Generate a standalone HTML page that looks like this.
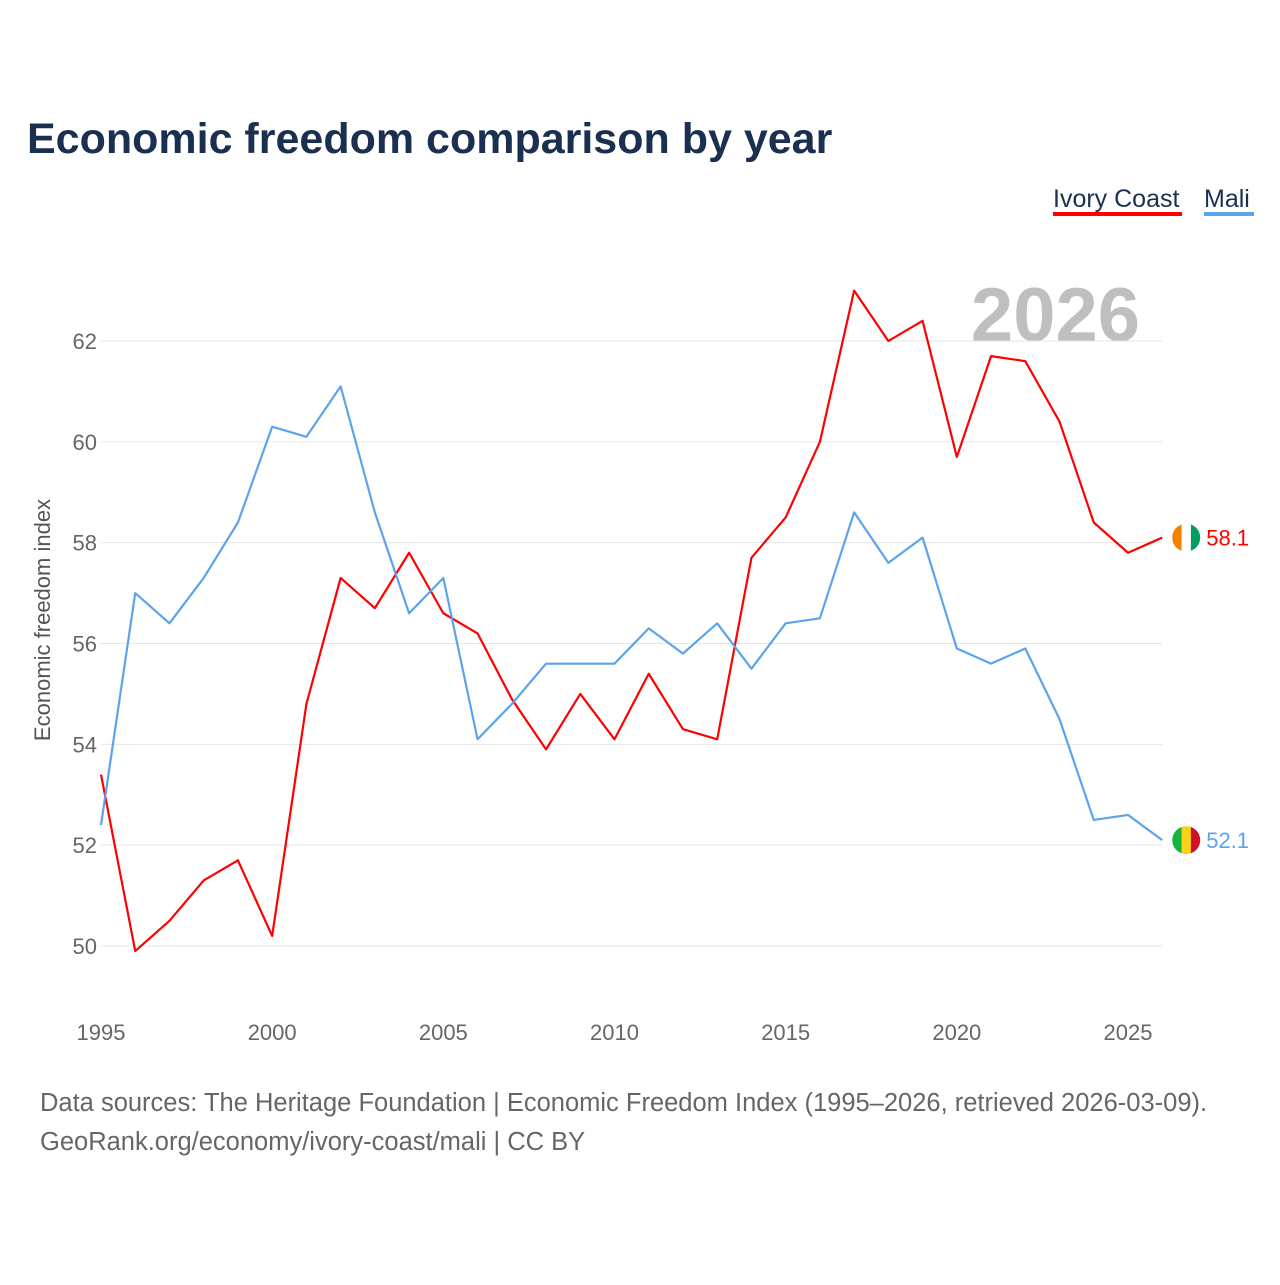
<!DOCTYPE html>
<html><head><meta charset="utf-8">
<style>
html,body{margin:0;padding:0;background:#fff;}
body{width:1280px;height:1280px;overflow:hidden;font-family:"Liberation Sans",sans-serif;}
</style></head>
<body>
<svg id="chart" width="1280" height="1280" xmlns="http://www.w3.org/2000/svg" font-family="Liberation Sans, sans-serif">
<text x="27" y="153" font-size="43" font-weight="bold" fill="#1b3050">Economic freedom comparison by year</text>
<g>
<text x="1053" y="207" font-size="25" fill="#1b3050">Ivory Coast</text>
<rect x="1053" y="212" width="129" height="4" fill="#ff0000"/>
<text x="1204" y="207" font-size="25" fill="#1b3050">Mali</text>
<rect x="1204" y="212" width="50" height="4" fill="#5ba4ec"/>
</g>
<text x="1140" y="341" font-size="76" font-weight="bold" fill="#bfbfbf" text-anchor="end">2026</text>
<text transform="translate(50,620) rotate(-90)" font-size="22" fill="#555" text-anchor="middle">Economic freedom index</text>
<g id="grid"></g><g id="lines"></g><g id="labels"></g>
<text x="40" y="1111" font-size="25.5" fill="#666">Data sources: The Heritage Foundation | Economic Freedom Index (1995–2026, retrieved 2026-03-09).</text>
<text x="40" y="1150" font-size="25.5" fill="#666">GeoRank.org/economy/ivory-coast/mali | CC BY</text>
</svg>
<script>
const years=[1995,1996,1997,1998,1999,2000,2001,2002,2003,2004,2005,2006,2007,2008,2009,2010,2011,2012,2013,2014,2015,2016,2017,2018,2019,2020,2021,2022,2023,2024,2025,2026];
const ivoryCoast=[53.4,49.9,50.5,51.3,51.7,50.2,54.8,57.3,56.7,57.8,56.6,56.2,54.9,53.9,55.0,54.1,55.4,54.3,54.1,57.7,58.5,60.0,63.0,62.0,62.4,59.7,61.7,61.6,60.4,58.4,57.8,58.1];
const mali=[52.4,57.0,56.4,57.3,58.4,60.3,60.1,61.1,58.6,56.6,57.3,54.1,54.8,55.6,55.6,55.6,56.3,55.8,56.4,55.5,56.4,56.5,58.6,57.6,58.1,55.9,55.6,55.9,54.5,52.5,52.6,52.1];
const yTicks=[50,52,54,56,58,60,62];
const xTicks=[1995,2000,2005,2010,2015,2020,2025];
const NS="http://www.w3.org/2000/svg";
const x=y=>101+(y-1995)*(1027/30);
const yS=v=>946-(v-50)*(605/12);
function mk(t,a,p){const e=document.createElementNS(NS,t);for(const k in a)e.setAttribute(k,a[k]);p.appendChild(e);return e;}
const grid=document.getElementById('grid'),lines=document.getElementById('lines'),labels=document.getElementById('labels');
yTicks.forEach(v=>{
 const l=mk('line',{x1:101,x2:1162,y1:yS(v),y2:yS(v),stroke:'#e6e6e6','stroke-width':1},grid);
 
 
 const t=mk('text',{x:97,y:yS(v)+8,'font-size':22,fill:'#666','text-anchor':'end'},grid);
 t.textContent=v;
 
 
});
xTicks.forEach(v=>{
 const t=mk('text',{x:x(v),y:1040,'font-size':22,fill:'#666','text-anchor':'middle'},grid);
 t.textContent=v;
 
 
});
function series(vals,color,name){
 const p=mk('polyline',{points:vals.map((v,i)=>x(years[i])+','+yS(v)).join(' '),fill:'none',stroke:color,'stroke-width':2.2,'stroke-linejoin':'round'},lines);
 
 
 const last=vals[vals.length-1],lx=x(years[years.length-1]),ly=yS(last);
 const t=mk('text',{x:lx+44,y:ly+8,'font-size':22,fill:color},labels);
 t.textContent=last.toFixed(1);
 
 
 return [lx+24,ly];
}
const [ax,ay]=series(ivoryCoast,'#ff0000','ivory-coast');
const [bx,by]=series(mali,'#5ba4ec','mali');
function flag(cx,cy,cols,name){
 const g=mk('g',{},labels);
 
 
 const id='c'+name;
 const cp=mk('clipPath',{id:id},g);mk('circle',{cx:cx,cy:cy,r:14},cp);
 cols.forEach((c,i)=>mk('rect',{x:cx-14+i*28/3,y:cy-14,width:28/3+0.5,height:28,fill:c,'clip-path':'url(#'+id+')'},g));
}
flag(ax,ay,['#f77f00','#ffffff','#009e60'],'ivory-coast-flag');
flag(bx,by,['#14b53a','#fcd116','#ce1126'],'mali-flag');
</script>
</body></html>
